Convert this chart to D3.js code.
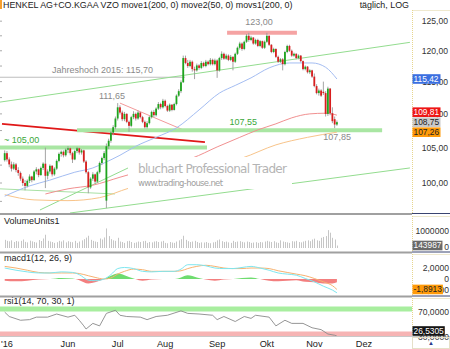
<!DOCTYPE html>
<html><head><meta charset="utf-8">
<script src="https://cdn.jsdelivr.net/npm/d3@7"></script>
<style>
html,body{margin:0;padding:0;background:#fff;}
svg{display:block;font-family:"Liberation Sans",Arial,sans-serif;}
</style></head><body><svg id="c" width="450" height="349"></svg>
<script>
// ---------------- DATA ----------------
const title = "HENKEL AG+CO.KGAA VZO move1(200, 0) move2(50, 0) movs1(200, 0)";
const periodLabel = "täglich, LOG";
const xTickLabels = ["'16","Jun","Jul","Aug","Sep","Okt","Nov","Dez"];
const xTickIdx = [1,28,50,71,94,116,137,159];
const priceTicks = [100,105,110,115,120,125];
const priceTickLabels = ["100,00","105,00","110,00","115,00","120,00","125,00"];

// daily candles [open, high, low, close], Apr 22 .. Nov 15 2016
const ohlc = [
 // Apr
 [103.2,104.6,103.0,104.2],[104.2,104.5,103.0,103.3],[103.3,103.6,102.2,102.6],[102.6,103.0,101.6,102.0],[102.0,102.9,101.8,102.6],[102.6,102.8,101.5,101.8],
 // May
 [101.8,102.2,101.0,101.4],[101.4,101.6,100.3,100.6],[100.6,100.9,99.6,100.0],[100.0,100.4,99.0,99.6],[99.6,100.5,99.4,100.3],[100.3,101.2,100.0,100.9],
 [100.9,101.0,100.1,100.4],[100.4,101.8,100.3,101.6],[101.6,102.2,101.2,101.9],[101.9,102.0,100.8,101.1],[101.1,102.3,101.0,102.1],[102.1,102.9,101.8,102.7],
 [102.7,105.0,99.3,101.0],[101.0,101.9,100.5,101.6],[101.6,102.6,101.3,102.4],[102.4,102.5,100.9,101.2],[101.2,102.2,101.0,102.0],[102.0,103.3,101.8,103.1],
 [103.1,104.3,102.9,104.1],[104.1,104.6,103.7,104.4],[104.4,104.6,103.6,103.9],[103.9,104.9,103.7,104.7],
 // Jun
 [104.7,105.2,104.2,104.9],[104.9,105.0,103.9,104.2],[104.2,104.4,102.8,103.3],[103.3,104.7,103.2,104.5],[104.5,105.1,104.2,104.9],[104.9,105.0,104.0,104.3],
 [104.3,104.8,104.0,104.6],[104.6,104.7,102.8,103.0],[103.0,103.2,101.3,101.5],[101.5,101.7,98.6,99.4],[99.4,100.8,99.2,100.6],[100.6,101.5,100.3,101.2],
 [101.2,101.3,99.9,100.2],[100.2,101.7,100.0,101.5],[101.5,103.0,101.3,102.8],[102.8,103.7,102.5,103.5],[103.5,104.5,103.2,104.2],[97.6,105.6,96.6,105.2],
 [105.2,106.3,104.8,106.0],[106.0,107.4,105.7,107.2],[107.2,108.3,106.8,108.0],[108.0,109.6,107.7,109.3],
 // Jul
 [109.3,111.65,109.0,111.0],[111.0,111.3,109.9,110.2],[110.2,110.5,108.9,109.2],[109.2,110.3,108.9,110.0],[110.0,110.1,108.6,108.8],[108.8,109.0,107.3,108.2],
 [108.2,109.7,108.0,109.5],[109.5,110.4,109.2,110.0],[110.0,110.2,109.0,109.3],[109.3,110.5,109.1,110.2],[110.2,110.3,109.3,109.5],[109.5,109.7,108.6,108.8],
 [108.8,109.0,107.8,108.0],[108.0,108.9,107.8,108.6],[108.6,109.7,108.4,109.5],[109.5,110.5,109.3,110.3],[110.3,110.6,109.5,109.8],[109.8,111.0,109.6,110.8],
 [110.8,111.8,110.6,111.5],[111.5,111.7,110.7,111.0],[111.0,112.3,110.8,112.0],
 // Aug
 [112.0,112.2,111.0,111.2],[111.2,111.4,110.3,110.5],[110.5,111.6,110.3,111.4],[111.4,111.5,110.4,110.6],[110.6,111.7,110.5,111.5],[111.5,113.0,111.3,112.8],
 [112.8,113.8,112.6,113.5],[113.5,115.2,113.2,114.9],[114.9,119.2,114.8,118.8],[118.8,119.2,117.8,118.0],[118.0,118.5,117.2,117.5],[117.5,118.5,117.3,118.2],
 [118.2,118.4,116.6,117.0],[117.0,117.4,115.4,116.8],[116.8,117.9,116.6,117.6],[117.6,117.8,116.9,117.2],[117.2,118.3,117.0,118.0],[118.0,118.2,117.3,117.5],
 [117.5,118.5,117.3,118.2],[118.2,118.4,117.6,117.8],[117.8,118.8,117.6,118.5],[118.5,118.7,117.6,117.8],[117.8,118.7,117.6,118.4],
 // Sep
 [118.4,118.6,115.6,116.8],[116.8,119.0,116.6,118.8],[118.8,119.9,118.5,119.5],[119.5,119.7,118.5,118.7],[118.7,119.5,118.5,119.2],[119.2,119.4,118.3,118.5],
 [118.5,119.3,118.3,119.0],[119.0,119.1,116.8,118.2],[118.2,119.7,118.0,119.5],[119.5,120.7,119.3,120.5],[120.5,121.5,120.2,121.2],[121.2,121.4,120.0,120.3],
 [120.3,121.7,120.1,121.5],[121.5,122.8,121.3,122.5],[122.5,123.0,121.5,121.8],[121.8,122.5,121.6,122.2],[122.2,122.3,121.0,121.2],[121.2,122.0,121.0,121.8],
 [121.8,122.0,120.6,120.8],[120.8,121.8,120.6,121.6],[121.6,121.7,120.3,120.5],[120.5,121.7,120.3,121.5],
 // Oct
 [121.5,123.0,121.3,122.5],[122.5,122.6,120.8,121.0],[121.0,121.1,119.6,119.8],[119.8,120.5,119.6,120.3],[120.3,120.4,118.8,119.0],[119.0,119.2,118.0,118.2],
 [118.2,118.8,118.0,118.6],[118.6,118.8,116.8,117.8],[117.8,120.0,117.6,119.8],[119.8,121.0,119.6,120.8],[120.8,121.0,119.8,120.0],[120.0,120.2,119.0,119.2],
 [119.2,119.7,119.0,119.5],[119.5,119.6,118.6,118.8],[118.8,119.4,118.6,119.2],[119.2,119.3,118.1,118.3],[118.3,118.4,116.8,117.0],[117.0,117.6,116.8,117.4],
 [117.4,117.5,116.3,116.5],[116.5,117.0,116.2,116.8],[116.8,116.9,115.6,115.8],
 // Nov
 [115.8,116.3,114.1,114.3],[114.3,114.6,113.0,113.2],[113.2,113.9,112.8,113.6],[113.6,113.8,112.6,112.8],[113.4,115.0,112.9,113.2],[113.2,113.5,109.6,110.0],
 [110.0,114.2,109.7,113.9],[113.9,114.0,109.8,110.1],[110.1,111.0,108.6,108.9],[109.2,109.6,107.85,108.4],[108.4,109.0,108.2,108.75]
];

const volume = [
 480,420,390,450,350,410,
 380,420,500,360,330,430,390,350,320,470,410,560,780,420,380,350,300,340,420,380,450,330,
 400,360,340,420,300,380,450,520,610,720,480,420,380,350,560,500,620,1150,700,520,450,420,
 600,380,350,300,400,420,350,300,330,380,350,400,420,300,350,330,380,400,350,380,420,
 300,280,350,320,300,380,450,520,720,480,400,350,380,420,350,300,330,320,350,300,280,330,360,
 450,500,400,350,380,330,300,420,350,380,400,360,330,380,350,300,320,340,300,350,330,380,
 420,380,350,400,330,300,450,380,350,330,300,400,380,420,350,330,380,420,450,400,500,
 550,450,420,600,650,700,1050,900,600,500,143.987
]; // thousands

// moving averages (candle index, value)
const ma50Idx = [0,11,20,31,39,44,51,58,67,76,86,95,102,109,117,126,136,142,147];
const ma50Val = [98.2,99.6,100.4,101.5,102.1,102.8,103.9,105.2,106.5,107.9,110.6,113.2,114.4,115.6,117.2,118.0,118.0,117.3,115.42];
const ma200Idx = [18,28,39,51,69,83,94,104,112,120,127,135,142,147];
const ma200Val = [98.5,99.2,99.7,100.8,102.4,103.5,105.1,106.5,107.6,108.5,109.4,110.0,110.1,109.81];
const movsIdx = [0,13,28,42,55,73,91,105,120,134,147];
const movsVal = [98.4,97.7,97.6,98.0,99.3,100.7,102.4,103.5,105.4,106.5,107.26];

// drawn trend lines [idx1, price1, idx2, price2]
const greenTrendTop = [-2.1,111.8,179.3,121.4];
const greenTrendA   = [-2.1,99.2,48.8,98.5];
const greenTrendB   = [15.6,96.35,54.6,102.1];
const greenTrendC   = [28.9,95.95,179.3,102.1];
const redTrend      = [-1.2,108.5,88.6,105.8];
const pinkTrend     = [51,111.65,79,107.6];
const yearHigh2015  = [-2.1,79.8,115.70];
const support105    = [-2.1,89.5,105.00];
const support10755  = [32,167,107.55];
const resist123     = [98.4,129.3,123.00];

// MACD (sparse reads)
const macdIdx = [0,5,10,15,20,25,30,33,37,40,44,47,50,53,57,61,65,70,75,78,81,85,89,93,97,101,105,109,113,117,121,125,129,133,137,141,145,147];
const macdLine = [2.0,1.6,1.3,1.1,1.1,1.3,1.2,0.8,-0.2,-0.3,0.0,0.8,1.9,2.1,1.9,1.4,1.3,1.4,1.4,1.8,2.6,2.6,2.4,2.0,1.9,1.9,2.1,2.3,2.0,1.6,1.1,0.9,0.7,0.1,-0.5,-1.3,-2.0,-2.5];
const macdSignal = [2.3,2.0,1.6,1.2,1.1,1.1,1.1,1.0,0.6,0.3,0.0,0.2,0.9,1.4,1.8,1.7,1.4,1.4,1.4,1.5,1.9,2.3,2.5,2.3,2.0,1.9,1.9,2.0,2.0,1.9,1.5,1.2,0.9,0.6,0.1,-0.5,-1.2,-1.8913];
const macdHist = [-0.3,-0.4,-0.3,-0.1,0.0,0.2,0.1,-0.2,-0.8,-0.6,0.0,0.6,1.0,0.7,0.1,-0.3,-0.1,0.0,0.0,0.3,0.7,0.3,-0.1,-0.3,-0.1,0.0,0.2,0.3,0.0,-0.3,-0.4,-0.3,-0.2,-0.5,-0.6,-0.8,-0.8,-0.6];

// RSI (sparse reads)
const rsiIdx = [0,2,7,11,14,19,23,28,31,33,35,36,39,42,45,49,51,54,60,63,67,72,78,81,86,92,94,97,102,106,109,111,117,120,124,127,132,136,140,143,146,147];
const rsiVal = [65,58,52,53,57,57,62,57,60,52,43,38,47,43,63,68,60,58,57,53,58,60,67,63,62,60,53,58,50,58,55,60,57,43,52,47,47,40,37,30,28,26.5305];

// -------------- DRAWING --------------
const svg = d3.select("#c");
const PR = 412;               // right edge of plot area
const font = '"Liberation Sans",Arial,sans-serif';
svg.append("rect").attr("width",450).attr("height",349).attr("fill","#fff");

const x = d3.scaleLinear().domain([0,147]).range([4.7, 4.7+147*2.26]);
const yP = d3.scaleLog().domain([95.95,128.7]).range([213,0]);
const yV = d3.scaleLinear().domain([0,1940]).range([248,215]);
const yM = d3.scaleLinear().domain([-2.9,4.73]).range([295,253]);
const yR = d3.scaleLinear().domain([25.2,89.2]).range([337,297]);

const defs = svg.append("defs");
function clip(id,x0,y0,w,h){defs.append("clipPath").attr("id",id).append("rect").attr("x",x0).attr("y",y0).attr("width",w).attr("height",h);}
clip("cMain",0,0,PR,213);
clip("cVol",0,215,PR,36);
clip("cMacd",0,253,PR,42);
clip("cRsi",0,297,PR,39);
clip("cPos",0,253,PR,yM(0)-253);
clip("cNeg",0,yM(0),PR,295-yM(0));

const gMain = svg.append("g").attr("clip-path","url(#cMain)");

// minor tick marks at left edge
const minor = d3.range(97.5,128,2.5);
gMain.selectAll("line.mt").data(minor).join("line")
 .attr("x1",0).attr("x2",2).attr("y1",d=>yP(d)).attr("y2",d=>yP(d)).attr("stroke","#aaa");

function seg(g,a,color,w){
 g.append("line").attr("x1",x(a[0])).attr("y1",yP(a[1])).attr("x2",x(a[2])).attr("y2",yP(a[3]))
  .attr("stroke",color).attr("stroke-width",w);
}
function hline(g,a,color,w,op){
 g.append("line").attr("x1",x(a[0])).attr("x2",x(a[1])).attr("y1",yP(a[2])).attr("y2",yP(a[2]))
  .attr("stroke",color).attr("stroke-width",w).attr("opacity",op||1);
}
hline(gMain,yearHigh2015,"#bdbdbd",1);
seg(gMain,greenTrendTop,"#93dc8f",1);
seg(gMain,greenTrendA,"#a8e0a4",1);
seg(gMain,greenTrendB,"#93dc8f",1);
seg(gMain,greenTrendC,"#93dc8f",1);
seg(gMain,redTrend,"#e01818",1.6);
seg(gMain,pinkTrend,"#f39a9a",1);
hline(gMain,support105,"#a9e6a3",4);
hline(gMain,support10755,"#a9e6a3",4);
hline(gMain,resist123,"#f5a3a3",4);

// moving averages
const lineP = (ix,vals)=>d3.line().curve(d3.curveMonotoneX).x((d,i)=>x(ix[i])).y(d=>yP(d))(vals);
gMain.append("path").attr("d",lineP(ma200Idx,ma200Val)).attr("fill","none").attr("stroke","#f19090").attr("stroke-width",1);
gMain.append("path").attr("d",lineP(movsIdx,movsVal)).attr("fill","none").attr("stroke","#f8c48a").attr("stroke-width",1);
gMain.append("path").attr("d",lineP(ma50Idx,ma50Val)).attr("fill","none").attr("stroke","#a4bdf2").attr("stroke-width",1);

// watermark
gMain.append("rect").attr("x",128).attr("y",157).attr("width",164).attr("height",32).attr("fill","#fff");
gMain.append("text").attr("x",138).attr("y",173).attr("font-size",12).attr("fill","#b4b4b4")
 .attr("textLength",149).attr("lengthAdjust","spacing").attr("font-family",'"DejaVu Sans",sans-serif').text("bluchart Professional Trader");
gMain.append("text").attr("x",138).attr("y",186).attr("font-size",8.5).attr("fill","#a0a0a0")
 .attr("textLength",85).attr("lengthAdjust","spacing").attr("font-family",'"DejaVu Sans",sans-serif').text("www.trading-house.net");

// candles
const cg = gMain.append("g");
cg.selectAll("line.w").data(ohlc).join("line")
 .attr("x1",(d,i)=>x(i)).attr("x2",(d,i)=>x(i)).attr("y1",d=>yP(d[1])).attr("y2",d=>yP(d[2]))
 .attr("stroke","#9a9a9a").attr("stroke-width",0.9);
cg.selectAll("rect.b").data(ohlc).join("rect")
 .attr("x",(d,i)=>x(i)-0.9).attr("width",1.8)
 .attr("y",d=>yP(Math.max(d[0],d[3])))
 .attr("height",d=>Math.max(0.8,Math.abs(yP(d[0])-yP(d[3]))))
 .attr("fill",d=>d[3]>=d[0]?"#1ea51e":"#d81e1e");

// annotations
function label(t,xx,yy,col,anchor){
 svg.append("text").attr("x",xx).attr("y",yy).attr("dy","0.35em").attr("font-size",9)
  .attr("fill",col).attr("text-anchor",anchor||"start").attr("font-family",font).text(t);
}
label(`Jahreshoch 2015: ${d3.format(".2f")(yearHigh2015[2]).replace(".",",")}`,52,yP(yearHigh2015[2])-7,"#8a8a8a");
label("111,65",x(47.5),yP(111.65)-7,"#8a8a8a","middle");
label("123,00",x(112.5),yP(123)-11,"#8a8a8a","middle");
label("~ 105,00",4,yP(105)-8,"#3aa83a");
label("107,55",x(99.5),yP(107.55)-8,"#3aa83a");
label("107,85",x(141),yP(107.85)+9,"#8a8a8a");

// header
svg.append("rect").attr("x",0).attr("y",0).attr("width",2).attr("height",9).attr("fill","#f7a030");
svg.append("text").attr("x",3).attr("y",5).attr("dy","0.35em").attr("font-size",8.9).attr("fill","#222").attr("font-family",font).text(title);
svg.append("text").attr("x",409).attr("y",5).attr("dy","0.35em").attr("font-size",8.9).attr("fill","#222").attr("text-anchor","end").attr("font-family",font).text(periodLabel);

// right axis frames
function axisFrame(y0,y1){
 svg.append("line").attr("x1",412.5).attr("x2",412.5).attr("y1",y0).attr("y2",y1).attr("stroke","#e6d58e").attr("stroke-dasharray","1,1");
 svg.append("line").attr("x1",413).attr("x2",450).attr("y1",y0+0.5).attr("y2",y0+0.5).attr("stroke","#efe9cf");
}
axisFrame(10,213); axisFrame(216,251); axisFrame(254,295); axisFrame(298,336);

// price axis labels
svg.selectAll("text.pt").data(priceTicks).join("text")
 .attr("x",448).attr("y",d=>yP(d)).attr("dy","0.35em").attr("text-anchor","end").attr("font-size",8.6)
 .attr("fill","#333").attr("font-family",font).text((d,i)=>priceTickLabels[i]);

function fmt(v,dec){return d3.format(`.${dec}f`)(v).replace(".",",").replace("−","-");}
function box(yy,bg,fg,txt){
 const r = svg.append("rect").attr("x",412.5).attr("y",yy-4.8).attr("height",9.6).attr("fill",bg);
 const t = svg.append("text").attr("x",413.5).attr("y",yy).attr("dy","0.35em").attr("font-size",8.4).attr("fill",fg).attr("font-family",font).text(txt);
 const w = t.node().getComputedTextLength();
 r.attr("width",Math.max(28,w+2));
}
// last-value boxes (resolve overlap)
const lastClose = ohlc[ohlc.length-1][3];
const boxes = [
 {v:ma50Val[ma50Val.length-1],bg:"#3b6fe0",fg:"#fff"},
 {v:ma200Val[ma200Val.length-1],bg:"#ee1515",fg:"#fff"},
 {v:lastClose,bg:"#c9c9c9",fg:"#222"},
 {v:movsVal[movsVal.length-1],bg:"#ff9a08",fg:"#222"}
].map(b=>({...b,y:yP(b.v)})).sort((a,b)=>b.y-a.y);
for(let i=1;i<boxes.length;i++){ if(boxes[i-1].y-boxes[i].y<10) boxes[i].y=boxes[i-1].y-10; }
boxes.forEach(b=>box(b.y,b.bg,b.fg,fmt(b.v,2)));

// separators
function sep(y){
 svg.append("line").attr("x1",0).attr("x2",PR).attr("y1",y).attr("y2",y).attr("stroke","#a0a0a0").attr("stroke-width",2);
 svg.append("line").attr("x1",PR).attr("x2",450).attr("y1",y-0.5).attr("y2",y-0.5).attr("stroke","#3a4470").attr("stroke-width",1);
}
sep(214); sep(252.5); sep(296.5);
svg.append("line").attr("x1",0).attr("x2",450).attr("y1",336.5).attr("y2",336.5).attr("stroke","#c8c8c8");

// volume panel
const gVol = svg.append("g").attr("clip-path","url(#cVol)");
gVol.selectAll("line").data(volume).join("line")
 .attr("x1",(d,i)=>Math.round(x(i))+0.5).attr("x2",(d,i)=>Math.round(x(i))+0.5)
 .attr("y1",yV(0)).attr("y2",d=>yV(d)).attr("stroke","#c6c6c6").attr("stroke-width",1);
label("VolumeUnits1",4,221,"#222");
svg.append("text").attr("x",449).attr("y",yV(1000)).attr("dy","0.35em").attr("text-anchor","end").attr("font-size",8.6).attr("fill","#333").attr("font-family",font).text("1000000");
svg.append("text").attr("x",449).attr("y",yV(0)-1).attr("dy","0.35em").attr("text-anchor","end").attr("font-size",8.6).attr("fill","#333").attr("font-family",font).text("0");
box(245.5,"#6a6a6a","#fff",String(Math.round(volume[volume.length-1]*1000)));

// MACD panel
const gM = svg.append("g").attr("clip-path","url(#cMacd)");
const histArea = d3.area().x((d,i)=>x(macdIdx[i])).y0(yM(0)).y1(d=>yM(d)).curve(d3.curveMonotoneX);
gM.append("path").attr("d",histArea(macdHist)).attr("fill","#6fdc6f").attr("clip-path","url(#cPos)");
gM.append("path").attr("d",histArea(macdHist)).attr("fill","#f37f7f").attr("clip-path","url(#cNeg)");
const lineM = d3.line().x((d,i)=>x(macdIdx[i])).y(d=>yM(d)).curve(d3.curveMonotoneX);
gM.append("path").attr("d",lineM(macdSignal)).attr("fill","none").attr("stroke","#f7b270").attr("stroke-width",1);
gM.append("path").attr("d",lineM(macdLine)).attr("fill","none").attr("stroke","#7ee6ef").attr("stroke-width",1);
label("macd1(12, 26, 9)",4,258,"#222");
[2,0,-2].forEach(v=>{
 svg.append("text").attr("x",449).attr("y",yM(v)).attr("dy","0.35em").attr("text-anchor","end").attr("font-size",8.6).attr("fill","#333").attr("font-family",font).text(v===0?"0":fmt(v,4));
});
box(Math.min(yM(macdSignal[macdSignal.length-1]),290),"#ff9a08","#222",fmt(macdSignal[macdSignal.length-1],4));

// RSI panel
const gR = svg.append("g").attr("clip-path","url(#cRsi)");
gR.append("line").attr("x1",0).attr("x2",PR).attr("y1",yR(70)).attr("y2",yR(70)).attr("stroke","#a8ee9f").attr("stroke-width",5);
gR.append("line").attr("x1",0).attr("x2",PR).attr("y1",yR(30)).attr("y2",yR(30)).attr("stroke","#f6b4b4").attr("stroke-width",5);
const lineR = d3.line().x((d,i)=>x(rsiIdx[i])).y(d=>yR(d));
gR.append("path").attr("d",lineR(rsiVal)).attr("fill","none").attr("stroke","#8a8a8a").attr("stroke-width",0.9);
label("rsi1(14, 70, 30, 1)",4,300.5,"#222");
[70,30].forEach(v=>{
 svg.append("text").attr("x",449).attr("y",yR(v)+3).attr("dy","0.35em").attr("text-anchor","end").attr("font-size",8.6).attr("fill","#333").attr("font-family",font).text(fmt(v,4));
});
box(331,"#141414","#fff",fmt(rsiVal[rsiVal.length-1],4));

// x axis labels
svg.selectAll("text.xt").data(xTickLabels).join("text")
 .attr("x",(d,i)=>x(xTickIdx[i])).attr("y",343.5).attr("dy","0.35em").attr("text-anchor","middle")
 .attr("font-size",9.2).attr("fill","#222").attr("font-family",font).text(d=>d);
svg.append("rect").attr("x",412.5).attr("y",337.5).attr("width",37).attr("height",11).attr("fill","none").attr("stroke","#e6e0c8");
svg.append("text").attr("x",431).attr("y",343).attr("dy","0.35em").attr("text-anchor","middle").attr("font-size",6).attr("fill","#2b3a8a").text("▲");
</script></body></html>
